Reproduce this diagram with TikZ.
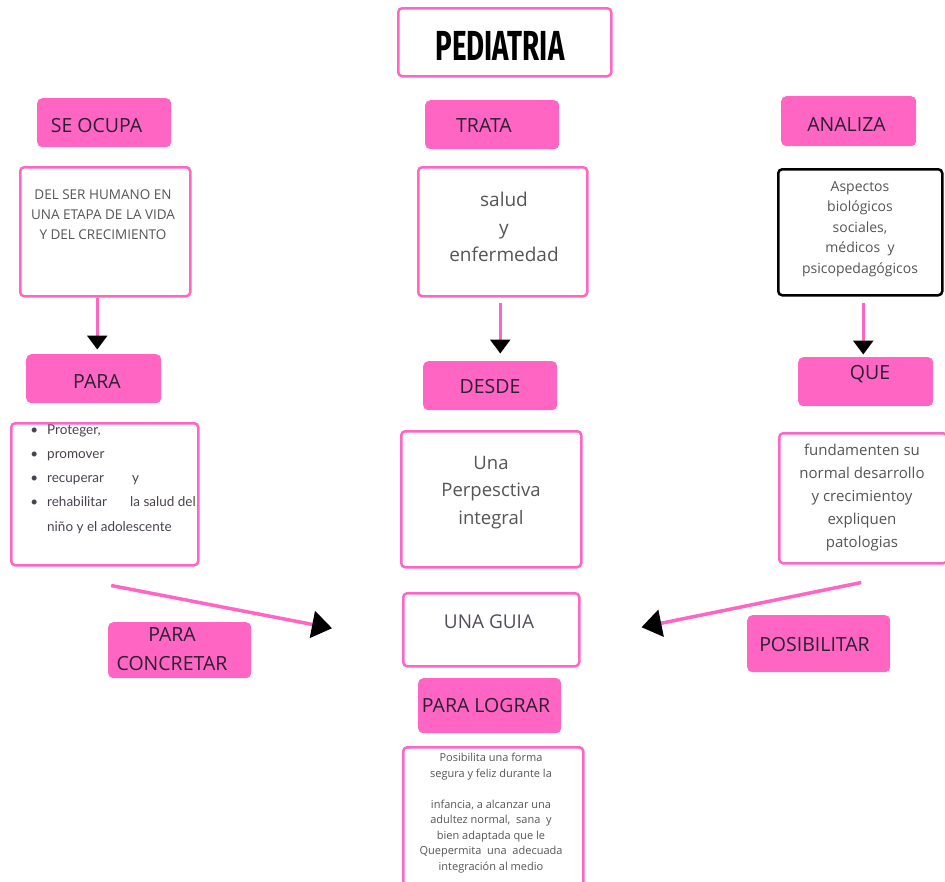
\documentclass[tikz,border=0pt]{standalone}
\usepackage{fontspec}
\setmainfont{Open Sans}
\newfontfamily\titlef[FakeStretch=0.66]{Fira Sans}
\newfontfamily\latof{Lato}
\usetikzlibrary{arrows.meta}
\definecolor{pk}{HTML}{FF66C4}
\definecolor{gtxt}{HTML}{555555}
\definecolor{dtxt}{HTML}{2A2030}
\begin{document}
\begin{tikzpicture}[x=1pt,y=-1pt,
 box/.style={draw=pk, line width=2.5pt, rounded corners=4pt, fill=white, anchor=north west, inner sep=0pt},
 bbox/.style={box, draw=black},
 lab/.style={fill=pk, rounded corners=5pt, anchor=north west, inner sep=0pt},
 labtxt/.style={text=dtxt, font=\fontsize{19.5}{29}\selectfont, align=center, inner sep=0pt},
 txt/.style={text=gtxt, align=center, inner sep=0pt},
 arr/.style={draw=pk, line width=3pt, -{Triangle[length=14pt,width=20pt,color=black,fill=black]}},
 darr/.style={draw=pk, line width=3.5pt, -{Triangle[length=20pt,width=27pt,color=black,fill=black]}}
]
\useasboundingbox (0,0) rectangle (945,881);
% title
\node[box, minimum width=213pt, minimum height=68pt] (ped) at (397,7) {};
\node[inner sep=0pt] (pedt) at (500,46) {\titlef\bfseries\fontsize{42}{42}\selectfont PEDIATRIA};
% top labels
\node[lab, minimum width=134pt, minimum height=49pt] (seoc) at (37,98) {};
\node[labtxt] (seoct) at (96.5,126) {SE OCUPA};
\node[lab, minimum width=134pt, minimum height=49pt] (trata) at (425,100) {};
\node[labtxt] (tratat) at (484,126) {TRATA};
\node[lab, minimum width=135pt, minimum height=50pt] (anal) at (781,96) {};
\node[labtxt] (analt) at (846.5,125) {ANALIZA};
% row boxes
\node[box, minimum width=170pt, minimum height=129pt] (b1) at (19,166) {};
\node[txt, font=\fontsize{13.5}{20}\selectfont] (b1t) at (103,215) {DEL SER HUMANO EN\\UNA ETAPA DE LA VIDA\\Y DEL CRECIMIENTO};
\node[box, minimum width=169pt, minimum height=129pt] (b2) at (417,166) {};
\node[txt, font=\fontsize{19}{27.5}\selectfont] (b2t) at (504,227) {salud\\y\\enfermedad};
\node[bbox, minimum width=164pt, minimum height=126pt] (b3) at (777,168) {};
\node[txt, font=\fontsize{14}{20.5}\selectfont] (b3t) at (860,229) {Aspectos\\biológicos\\sociales,\\médicos\ \ y\\psicopedagógicos};
% vertical arrows
\draw[arr] ([xshift=-8pt]b1.south) -- ++(0,52);
\draw[arr] ([xshift=-2.5pt,yshift=-5pt]b2.south) -- ++(0,51);
\draw[arr] ([xshift=3pt,yshift=-6pt]b3.south) -- ++(0,52);
% second labels
\node[lab, minimum width=135pt, minimum height=49pt] (para) at (26,354) {};
\node[labtxt] (parat) at (97,382) {PARA};
\node[lab, minimum width=134pt, minimum height=49pt] (desde) at (423,361) {};
\node[labtxt] (desdet) at (490,387) {DESDE};
\node[lab, minimum width=135pt, minimum height=49pt] (que) at (798,357) {};
\node[labtxt] (quet) at (870,374) {QUE};
% third row boxes
\node[box, minimum width=187pt, minimum height=142pt] (b4) at (10,422) {};
\node[text=dtxt!85, align=left, inner sep=0pt, anchor=west, font=\latof\fontsize{13.5}{24.2}\selectfont] (b4t) at (47,479)
 {\llap{\textbullet\hspace{9pt}}Proteger,\\
  \llap{\textbullet\hspace{9pt}}promover\\
  \llap{\textbullet\hspace{9pt}}\makebox[85pt][l]{recuperar}y\\
  \llap{\textbullet\hspace{9pt}}\makebox[83pt][l]{rehabilitar}la salud del\\
  niño y el adolescente};
\node[box, minimum width=180pt, minimum height=136pt] (b5) at (400,430) {};
\node[txt, font=\fontsize{18.5}{27.5}\selectfont] (b5t) at (491,492.5) {Una\\Perpesctiva\\integral};
\node[box, minimum width=168pt, minimum height=130pt] (b6) at (778,432) {};
\node[txt, font=\fontsize{15}{23}\selectfont] (b6t) at (862,497.5) {fundamenten su\\normal desarrollo\\y crecimientoy\\expliquen\\patologias};
% guia
\node[box, minimum width=176pt, minimum height=73pt] (guia) at (402,592) {};
\node[txt, text=dtxt!80, font=\fontsize{19}{27}\selectfont] (guiat) at (489,622) {UNA GUIA};
% diagonal arrows
\draw[darr] ([xshift=6.5pt,yshift=-19pt]b4.south) -- ([xshift=-70pt,yshift=1.5pt]guia.west);
\draw[darr] ([xshift=-2pt,yshift=-18pt]b6.south) -- ([xshift=61pt,yshift=2.5pt]guia.east);
% side labels
\node[lab, minimum width=143pt, minimum height=56pt] (conc) at (108,622) {};
\node[labtxt] (conct) at (172,649) {PARA\\CONCRETAR};
\node[lab, minimum width=143pt, minimum height=57pt] (posi) at (747,615) {};
\node[labtxt] (posit) at (814.5,645) {POSIBILITAR};
\node[lab, minimum width=143pt, minimum height=55pt] (logr) at (418,678) {};
\node[labtxt] (logrt) at (486,705.5) {PARA LOGRAR};
% bottom box
\node[box, minimum width=180pt, minimum height=145pt] (b7) at (402,746) {};
\node[txt, font=\fontsize{11}{15.5}\selectfont] (b7t) at (491,813) {Posibilita una forma\\segura y feliz durante la\\[15.5pt]infancia, a alcanzar una\\adultez normal,\ \ sana\ \ y\\bien adaptada que le\\Quepermita\ \ una\ \ adecuada\\integración al medio};
\end{tikzpicture}
\end{document}
